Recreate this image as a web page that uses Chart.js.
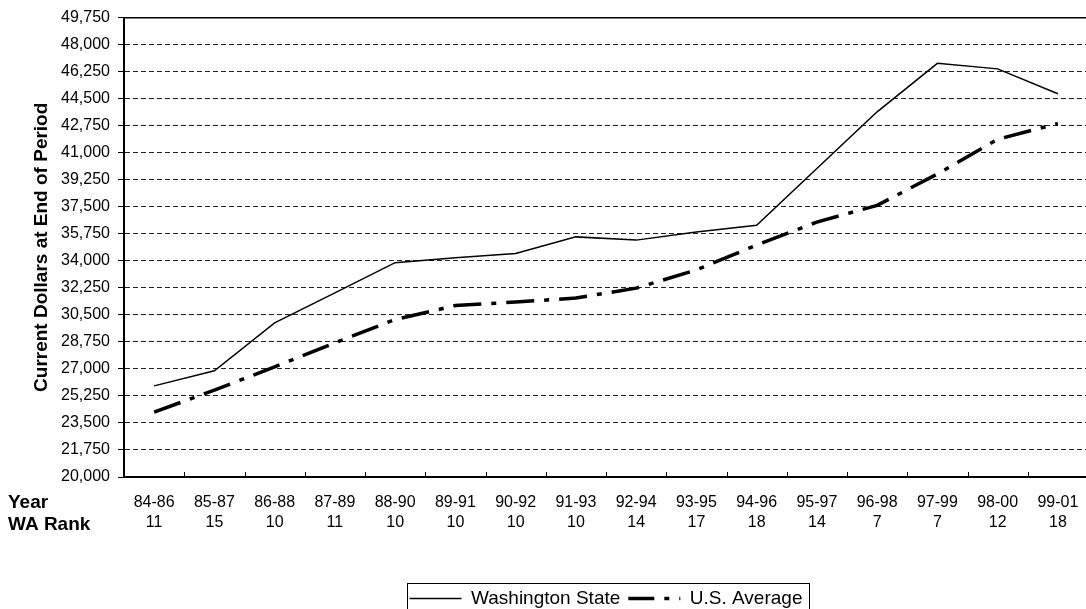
<!DOCTYPE html>
<html>
<head>
<meta charset="utf-8">
<script src="https://cdn.jsdelivr.net/npm/chart.js@4/dist/chart.umd.min.js"></script>
<style>
  html, body { margin: 0; padding: 0; background: #fff; overflow: hidden; }
  #wrap { width: 1092px; height: 618px; }
</style>
</head>
<body>
<div id="wrap"><canvas id="salaries" width="1092" height="618"></canvas></div>
<script>
const periods = ['84-86', '85-87', '86-88', '87-89', '88-90', '89-91', '90-92', '91-93', '92-94', '93-95', '94-96', '95-97', '96-98', '97-99', '98-00', '99-01'];
const waRank = [11, 15, 10, 11, 10, 10, 10, 10, 14, 17, 18, 14, 7, 7, 12, 18];
const washington = [25900, 26880, 29980, 31920, 33880, 34200, 34480, 35550, 35340, 35870, 36300, 39980, 43650, 46790, 46430, 44820];
const usAverage = [24200, 25630, 27130, 28690, 30200, 31100, 31330, 31590, 32230, 33410, 35020, 36510, 37590, 39620, 41870, 42890];
const yMin = 20000;
const yMax = 49750;
const yStep = 1750;

const FONT = "'Liberation Sans', Arial, sans-serif";
Chart.defaults.font.family = FONT;
Chart.defaults.color = '#000';

// top frame line, inside tick marks between categories, row captions, legend box
const frame = {
    id: 'frame',
    afterDraw(chart) {
        const { ctx, chartArea: a, scales: { x } } = chart;
        ctx.save();
        ctx.strokeStyle = '#000';
        ctx.lineWidth = 1.5;
        ctx.beginPath();
        ctx.moveTo(a.left, a.top + 0.25);
        ctx.lineTo(a.right, a.top + 0.25);
        ctx.stroke();

        const half = (x.getPixelForValue(1) - x.getPixelForValue(0)) / 2;
        ctx.lineWidth = 1;
        ctx.beginPath();
        for (let i = 1; i <= periods.length; i++) {
            const px = Math.round(x.getPixelForValue(i) - half) + 0.5;
            ctx.moveTo(px, a.bottom);
            ctx.lineTo(px, a.bottom - 5);
        }
        ctx.stroke();

        ctx.fillStyle = '#000';
        ctx.font = 'bold 19px ' + FONT;
        ctx.textBaseline = 'middle';
        ctx.fillText('Year', 8, 503);
        ctx.fillText('WA Rank', 8, 525);

        const boxes = chart.legend.legendHitBoxes;
        if (boxes && boxes.length) {
            const first = boxes[0], last = boxes[boxes.length - 1];
            const l = Math.round(first.left - 3) + 0.5;
            const r = Math.round(last.left + last.width + 7) + 0.5;
            const t = Math.round(first.top - 6) + 0.5;
            ctx.strokeRect(l, t, r - l, 40);
        }
        ctx.restore();
    },
};

new Chart(document.getElementById('salaries'), {
    type: 'line',
    data: {
        labels: periods.map((p, i) => [p, String(waRank[i])]),
        datasets: [
            { label: 'Washington State', data: washington, borderColor: '#000', backgroundColor: '#000', borderWidth: 1.5, pointRadius: 0, tension: 0 },
            { label: 'U.S. Average', data: usAverage, borderColor: '#000', backgroundColor: '#000', borderWidth: 3.5, borderDash: [28, 10, 5, 10], borderCapStyle: 'butt', pointRadius: 0, tension: 0 },
        ],
    },
    options: {
        responsive: false,
        animation: false,
        events: [],
        layout: { padding: { top: 14, right: 4, left: 0, bottom: 0 } },
        plugins: {
            tooltip: { enabled: false },
            legend: {
                position: 'bottom',
                fullSize: false,
                labels: {
                    usePointStyle: true, pointStyle: 'line', pointStyleWidth: 52, padding: 8, color: '#000', font: { size: 19 },
                    // point-style legend items drop the dataset dash, so put it back
                    generateLabels: chart => Chart.defaults.plugins.legend.labels.generateLabels(chart).map(item => {
                        const ds = chart.data.datasets[item.datasetIndex];
                        if (ds.borderDash) { item.lineDash = ds.borderDash; item.lineDashOffset = 2; }
                        item.lineWidth = ds.borderWidth;
                        return item;
                    }),
                },
            },
        },
        scales: {
            x: {
                offset: true,
                grid: { display: false },
                border: { display: true, color: '#000', width: 2 },
                ticks: { padding: 7, maxRotation: 0, autoSkip: false, color: '#000', font: { size: 16, lineHeight: 1.28 } },
                afterFit: s => { s.height = 104; },
            },
            y: {
                min: yMin,
                max: yMax,
                grid: { color: '#222', lineWidth: 1, tickLength: 6, tickColor: '#000', tickBorderDash: [] },
                border: { display: true, color: '#000', width: 2, dash: [5, 3] },
                ticks: { stepSize: yStep, padding: 8, color: '#000', font: { size: 16 }, callback: v => v.toLocaleString('en-US') },
                title: { display: true, text: 'Current Dollars at End of Period', color: '#000', font: { size: 19, weight: 'bold' }, padding: { top: 30, bottom: 0 } },
                afterFit: s => { s.width = 124; },
            },
        },
    },
    plugins: [frame],
});
</script>
</body>
</html>
